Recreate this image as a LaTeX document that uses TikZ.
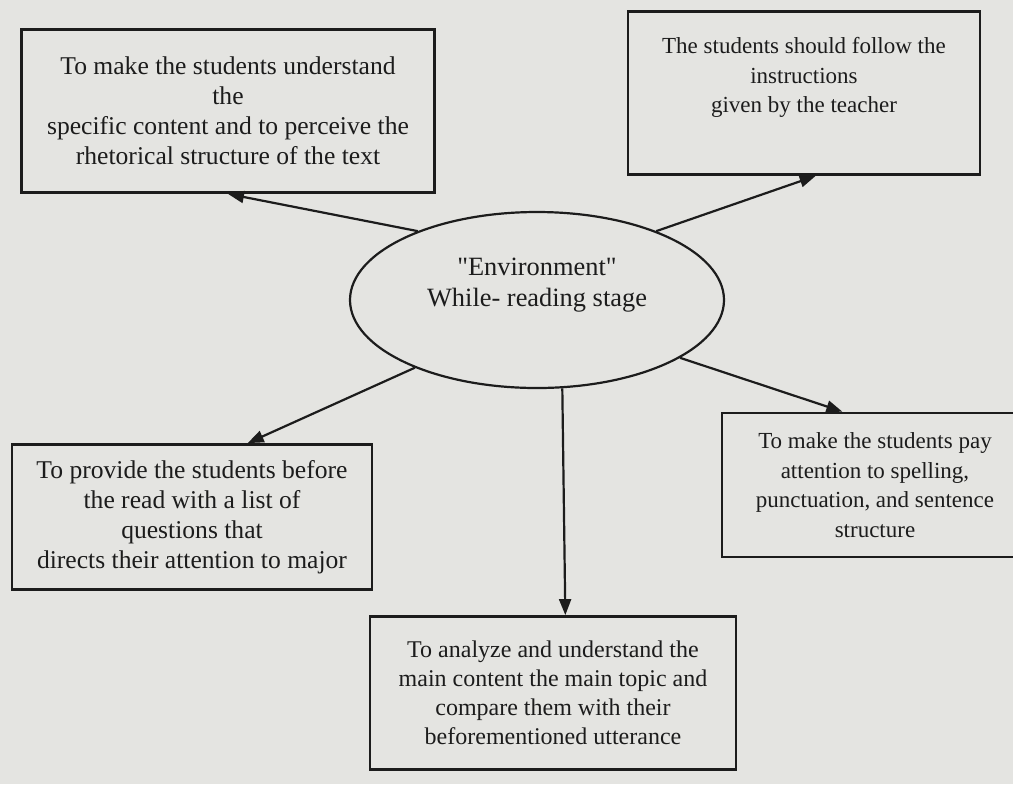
\documentclass[tikz,border=0pt]{standalone}
\usepackage{fontspec}
\setmainfont{Liberation Serif}
\usetikzlibrary{shapes.geometric,arrows.meta,positioning}
\definecolor{paper}{RGB}{228,228,225}
\definecolor{ink}{RGB}{28,28,28}
\begin{document}
\begin{tikzpicture}[x=0.5pt,y=-0.5pt,
    goal/.style={draw=ink,line width=1.4pt,align=center,inner sep=0pt,text=ink,font=\fontsize{12}{14.5}\selectfont},
    big/.style={font=\fontsize{12.8}{15}\selectfont},
    small/.style={font=\fontsize{11.5}{14.8}\selectfont},
    link/.style={draw=ink,line width=1.1pt,-{Triangle[length=8pt,width=6pt]}}]
  \fill[paper] (0,0) rectangle (1013,784);
  \useasboundingbox (0,0) rectangle (1013,784);

  % centre of the diagram
  \node[goal,ellipse,line width=1.1pt,minimum width=187pt,minimum height=88pt] (env) at (537,300) {};
  \node[goal,draw=none,font=\fontsize{13.2}{15.5}\selectfont] (envtext) at ([yshift=7.5pt]env.center) {\textquotedbl Environment\textquotedbl\\While- reading stage};

  % the five aims
  \node[goal,big,minimum width=206.5pt,minimum height=81.5pt] (goalA) at (228,111) {To make the students understand\\the\\specific content and to perceive the\\rhetorical structure of the text};
  \node[goal,minimum width=176pt,minimum height=81.5pt] (goalB) at (804,93) {};
  \node[goal,small,draw=none,below=13pt of goalB.north] (goalBtext) {The students should follow the\\instructions\\given by the teacher};
  \node[goal,big,minimum width=180pt,minimum height=72.5pt] (goalC) at (192,517) {To provide the students before\\the read with a list of\\questions that\\directs their attention to major};
  \node[goal,small,minimum width=153pt,minimum height=72pt] (goalD) at (875,485) {To make the students pay\\attention to spelling,\\punctuation, and sentence\\structure};
  \node[goal,minimum width=183pt,minimum height=76.5pt] (goalE) at (553,693) {To analyze and understand the\\main content the main topic and\\compare them with their\\beforementioned utterance};

  \foreach \from/\to in {150/goalA.south, 30/goalB.-82, 209/goalC.53, -22/goalD.114, -74/goalE.81}
    \draw[link] (env.\from) -- (\to);
\end{tikzpicture}
\end{document}
